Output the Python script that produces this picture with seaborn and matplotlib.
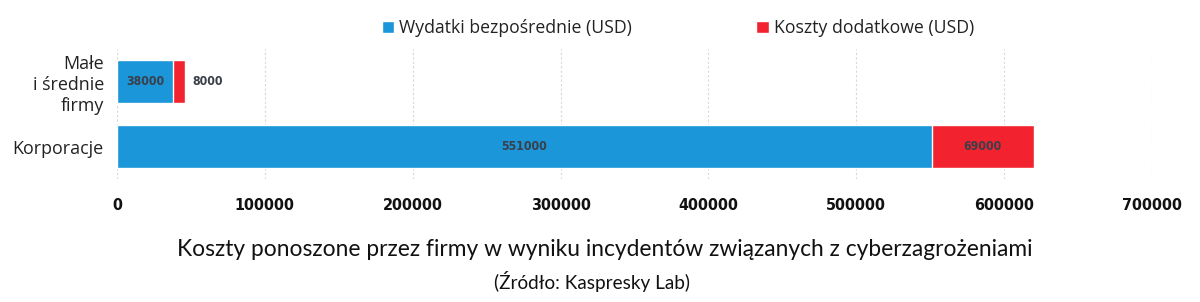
import matplotlib
matplotlib.use("Agg")
import matplotlib.pyplot as plt
from matplotlib import font_manager
import seaborn as sns
import pandas as pd

categories = ["Małe\ni średnie\nfirmy", "Korporacje"]
direct = [38000, 551000]
additional = [8000, 69000]
xticks = [0, 100000, 200000, 300000, 400000, 500000, 600000, 700000]
series_names = ["Wydatki bezpośrednie (USD)", "Koszty dodatkowe (USD)"]
title = "Koszty ponoszone przez firmy w wyniku incydentów związanych z cyberzagrożeniami"
subtitle = "(Źródło: Kaspresky Lab)"

BLUE = "#1a96d9"
RED = "#f2232f"
LABEL_C = "#3a3f4a"

sns.set_theme(style="white")
plt.rcParams["font.family"] = ["Open Sans", "DejaVu Sans"]

# find a condensed bold font
narrow = None
for f in font_manager.fontManager.ttflist:
    n = f.name.lower()
    fn = f.fname.lower()
    if ("narrow" in n or "condensed" in n or "condensed" in fn or "narrow" in fn) and \
            (f.weight in ("bold", 700) or "bold" in fn):
        narrow = font_manager.FontProperties(fname=f.fname)
        break
if narrow is None:
    narrow = font_manager.FontProperties(family="DejaVu Sans", weight="bold", stretch="condensed")


def nprops(size):
    p = narrow.copy()
    p.set_size(size)
    return p


df = pd.DataFrame({"cat": categories, "direct": direct, "additional": additional})
df["total"] = df["direct"] + df["additional"]

fig = plt.figure(figsize=(12, 3.02), dpi=100)
ax = fig.add_axes([117 / 1200, 1 - 179 / 302, (1152 - 117) / 1200, 130 / 302])

sns.barplot(data=df, y="cat", x="total", color=RED, orient="h", width=0.66,
            ax=ax, saturation=1)
sns.barplot(data=df, y="cat", x="direct", color=BLUE, orient="h", width=0.66,
            ax=ax, saturation=1)
if ax.get_legend() is not None:
    ax.get_legend().remove()

ax.set_xlim(0, 700000)
ax.set_ylim(1.5, -0.5)
ax.set_xticks(xticks)
ax.set_xticklabels([str(v) for v in xticks], fontproperties=nprops(11.5), color="#111111")
ax.tick_params(axis="x", length=0, pad=14)
ax.tick_params(axis="y", length=0, pad=9.5)
for lbl in ax.get_yticklabels():
    lbl.set_fontsize(12.9)
    lbl.set_color("#222222")
    lbl.set_horizontalalignment("right")
    lbl.set_multialignment("right")
ax.set_xlabel("")
ax.set_ylabel("")
for s in ax.spines.values():
    s.set_visible(False)
ax.xaxis.grid(True, linestyle=(0, (2, 2)), color="#d8d8d8", linewidth=0.8)
ax.set_axisbelow(True)

red_c, blue_c = ax.containers[0], ax.containers[1]
for i, (d, a) in enumerate(zip(direct, additional)):
    ax.text(d / 2, i, str(d), ha="center", va="center", fontproperties=nprops(8.8), color=LABEL_C)
    if a > 30000:
        ax.text(d + a / 2, i, str(a), ha="center", va="center", fontproperties=nprops(8.8), color=LABEL_C)
    else:
        ax.text(d + a + 5000, i, str(a), ha="left", va="center", fontproperties=nprops(8.8), color=LABEL_C)

handles = [blue_c.patches[0], red_c.patches[0]]
fig.legend(handles, series_names, loc="center", bbox_to_anchor=(0.565, 1 - 28 / 302),
           ncol=2, frameon=False, fontsize=12.7, handlelength=0.7, handleheight=0.7,
           handletextpad=0.3, columnspacing=7.05, labelcolor="#222222")

fig.text(0.504, 1 - 249 / 302, title, ha="center", va="center", fontsize=16.4,
         fontfamily=["Lato", "DejaVu Sans"], color="#111111")
fig.text(0.493, 1 - 281 / 302, subtitle, ha="center", va="center", fontsize=13.6,
         fontfamily=["Lato", "DejaVu Sans"], color="#111111")

fig.savefig("out.png", dpi=100)
